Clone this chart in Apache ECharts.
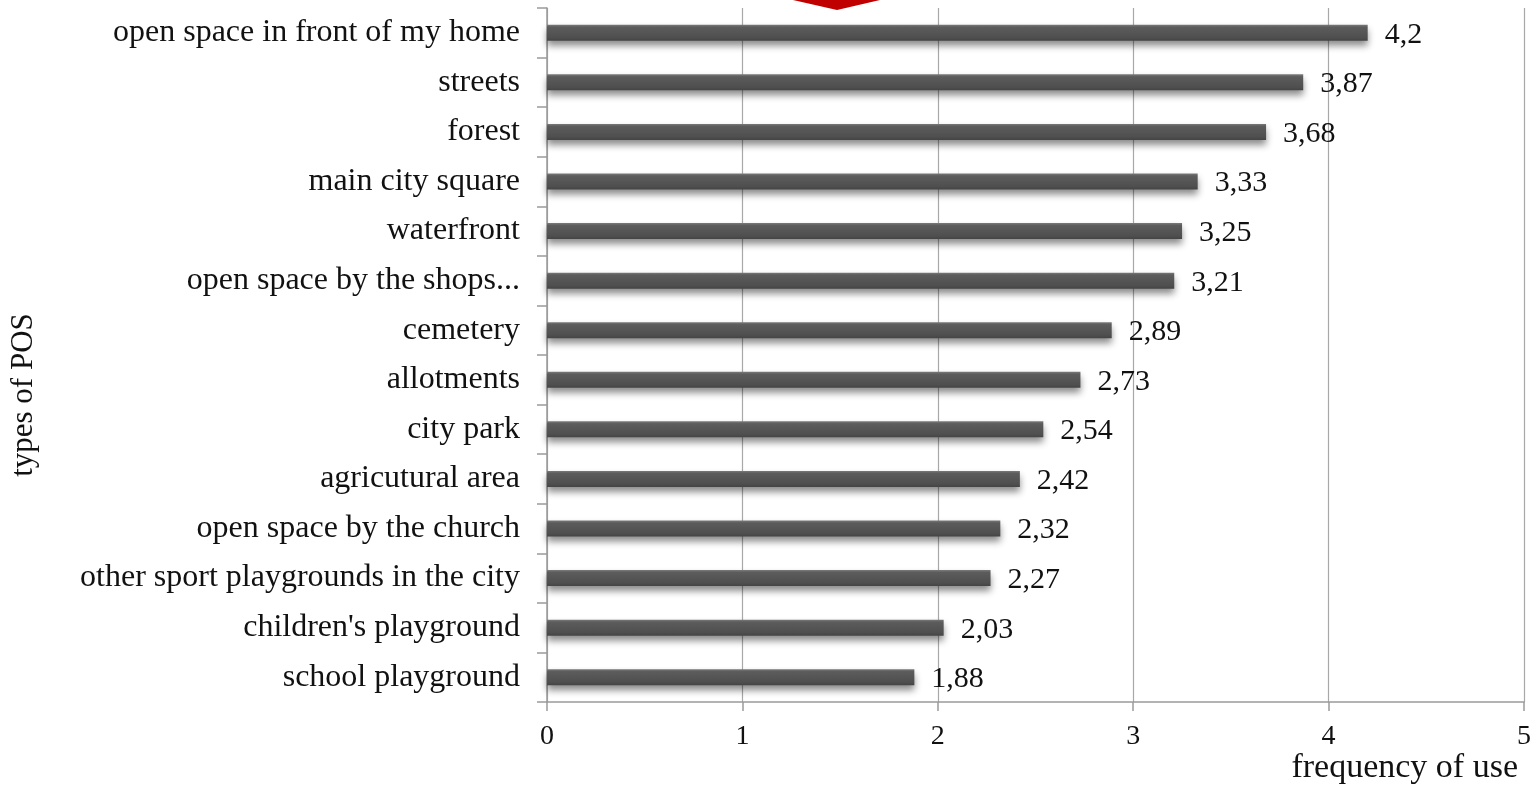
<!DOCTYPE html>
<html>
<head>
<meta charset="utf-8">
<script src="https://cdn.jsdelivr.net/npm/echarts@6/dist/echarts.min.js"></script>
<style>
  html, body { margin: 0; padding: 0; background: #fff; }
  #chart { width: 1539px; height: 786px; }
</style>
</head>
<body>
<div id="chart"></div>
<script>
// types of POS, top to bottom
const categories = [
  'open space in front of my home',
  'streets',
  'forest',
  'main city square',
  'waterfront',
  'open space by the shops...',
  'cemetery',
  'allotments',
  'city park',
  'agricutural area',
  'open space by the church',
  'other sport playgrounds in the city',
  "children's playground",
  'school playground'
];
const frequency = [4.2, 3.87, 3.68, 3.33, 3.25, 3.21, 2.89, 2.73, 2.54, 2.42, 2.32, 2.27, 2.03, 1.88];
const xTicks = [0, 1, 2, 3, 4, 5];

const serif = '"Liberation Serif", "Times New Roman", serif';
const chart = echarts.init(document.getElementById('chart'));

const option = {
  animation: false,
  grid: { left: 547, right: 15, top: 8, bottom: 84, containLabel: false },
  xAxis: {
    type: 'value',
    min: xTicks[0],
    max: xTicks[xTicks.length - 1],
    interval: 1,
    name: 'frequency of use',
    nameLocation: 'end',
    nameGap: -6,
    nameTextStyle: {
      fontFamily: serif, fontSize: 34, color: '#111',
      align: 'right', verticalAlign: 'top', padding: [49, 0, 0, 0]
    },
    axisLine: { show: true, lineStyle: { color: '#9a9a9a', width: 1.5 } },
    axisTick: { show: true, length: 9, lineStyle: { color: '#9a9a9a', width: 1.5 } },
    axisLabel: { fontFamily: serif, fontSize: 28, color: '#111', margin: 21 },
    splitLine: { show: true, lineStyle: { color: '#a8a8a8', width: 1.2 } }
  },
  yAxis: {
    type: 'category',
    data: categories,
    inverse: true,
    axisLine: { show: true, lineStyle: { color: '#9a9a9a', width: 1.5 } },
    axisTick: { show: true, length: 10, lineStyle: { color: '#9a9a9a', width: 1.5 } },
    axisLabel: { fontFamily: serif, fontSize: 32, color: '#111', margin: 27, padding: [5, 0, 0, 0] }
  },
  series: [{
    type: 'bar',
    data: frequency,
    barWidth: 16,
    itemStyle: {
      color: new echarts.graphic.LinearGradient(0, 0, 0, 1, [
        { offset: 0, color: '#7a7a7a' },
        { offset: 0.15, color: '#5c5c5c' },
        { offset: 0.8, color: '#4f4f4f' },
        { offset: 1, color: '#444' }
      ]),
      shadowColor: 'rgba(0,0,0,0.45)',
      shadowBlur: 7,
      shadowOffsetY: 5
    },
    label: {
      show: true,
      position: 'right',
      distance: 17,
      offset: [0, 2],
      fontFamily: serif,
      fontSize: 30,
      color: '#111',
      formatter: p => String(p.value).replace('.', ',')
    }
  }],
  graphic: [
    {
      type: 'text',
      x: 24,
      y: 395,
      rotation: Math.PI / 2,
      style: {
        text: 'types of POS',
        font: '31px ' + serif,
        fill: '#111',
        align: 'center',
        verticalAlign: 'middle'
      }
    },
    {
      type: 'polygon',
      shape: { points: [[793, 0], [880, 0], [837, 10]] },
      style: { fill: '#c00000' },
      z: 100
    }
  ]
};

chart.setOption(option);
</script>
</body>
</html>
